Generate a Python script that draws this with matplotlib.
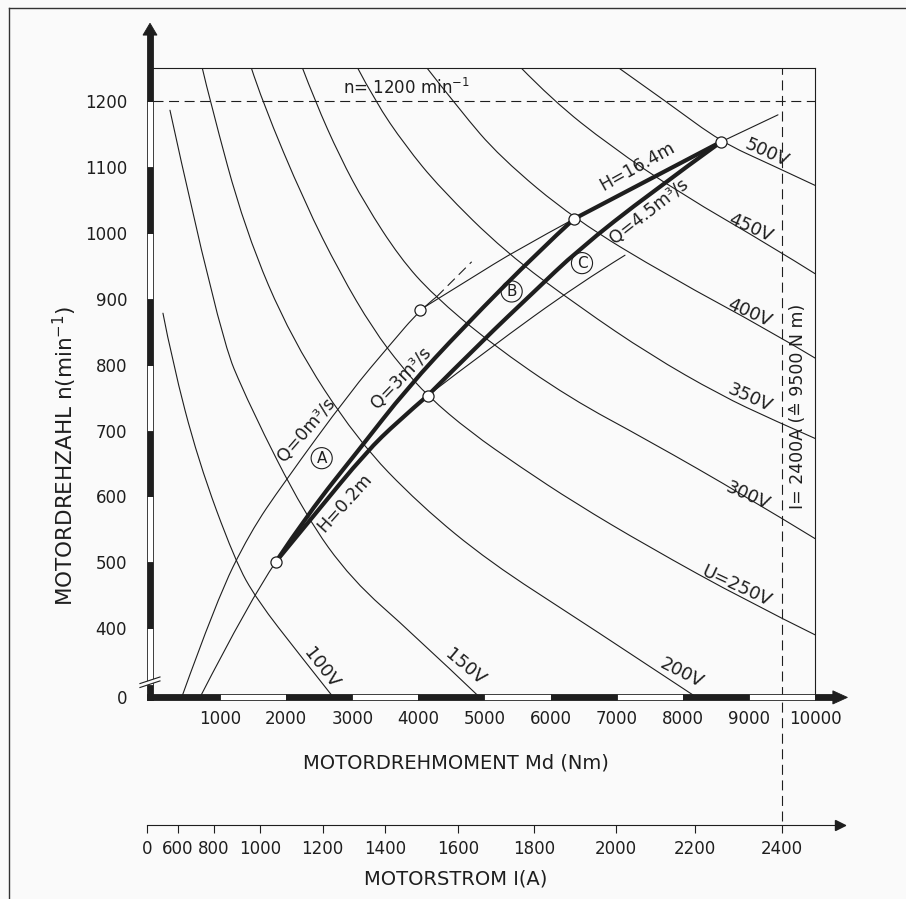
import matplotlib
matplotlib.use('Agg')
import matplotlib.pyplot as plt
from matplotlib.patches import Rectangle, Polygon, PathPatch
from matplotlib.path import Path
from matplotlib.lines import Line2D

plt.rcParams['font.family'] = ['DejaVu Sans']
plt.rcParams['mathtext.fontset'] = 'dejavusans'

INK = '#1e1e1e'
BG = '#fafafa'

# ---------------- data (Md in Nm, n in 1/min) ----------------
# voltage curves
u100_md = [136, 272, 666, 1225, 1558, 2209, 2730]
u100_n = [878, 807, 655, 503, 443, 359, 293]
u150_md = [242, 968, 1452, 2284, 2995, 3903, 4950]
u150_n = [1186, 852, 736, 572, 473, 393, 293]
u200_md = [726, 847, 1377, 2088, 3071, 4024, 5083, 6445, 8240]
u200_n = [1252, 1200, 1004, 837, 686, 587, 500, 412, 293]
u250_md = [1467, 1634, 2284, 2814, 3313, 3752, 4145, 4781, 5537, 6369, 7458, 8971, 10000]
u250_n = [1252, 1200, 1045, 939, 854, 796, 752, 698, 645, 590, 525, 441, 390]
u300_md = [2239, 2436, 2814, 3192, 3722, 4221, 5083, 6293, 7458, 8971, 10000]
u300_n = [1252, 1200, 1115, 1044, 962, 906, 833, 749, 686, 599, 536]
u350_md = [3071, 3343, 3797, 4327, 5310, 6445, 7504, 8563, 9365, 10000]
u350_n = [1252, 1200, 1133, 1068, 971, 887, 815, 754, 716, 688]
u400_md = [4115, 4629, 5234, 6354, 7806, 9319, 10000]
u400_n = [1252, 1186, 1115, 1021, 933, 851, 810]
u450_md = [5537, 6021, 6899, 7958, 9365, 10000]
u450_n = [1252, 1202, 1132, 1060, 978, 938]
u500_md = [7005, 7806, 8578, 9319, 10000]
u500_n = [1252, 1195, 1138, 1104, 1072]

volt_curves = [(u100_md, u100_n), (u150_md, u150_n), (u200_md, u200_n),
               (u250_md, u250_n), (u300_md, u300_n), (u350_md, u350_n),
               (u400_md, u400_n), (u450_md, u450_n), (u500_md, u500_n)]

volt_labels = ['100V', '150V', '200V', 'U=250V', '300V', '350V', '400V', '450V', '500V']
volt_label_md = [2537, 4705, 7983, 8815, 8986, 9017, 9002, 9017, 9269]
volt_label_n = [340, 341, 332, 463, 601, 749, 878, 1007, 1122]
volt_label_rot = [-52, -40, -27, -25, -24, -24, -24, -24, -24]

# operating points
pt_md = [1846, 4024, 4141, 6354, 8578]
pt_n = [501, 883, 753, 1021, 1138]

# thin lines
q0_md = [419, 949, 1452, 1952, 2965, 3570, 4024, 4277]
q0_n = [295, 443, 545, 619, 758, 830, 883, 903]
q0_dash_md = [4277, 4806]
q0_dash_n = [903, 956]
h02_thin_md = [696, 1452, 1846]
h02_thin_n = [295, 443, 501]
p2p4_md = [4024, 4781, 5487, 6354]
p2p4_n = [883, 930, 974, 1021]
p3ext_md = [4141, 5038, 6445, 7126]
p3ext_n = [753, 822, 924, 966]
p5ext_md = [8578, 9440]
p5ext_n = [1138, 1179]

# thick lines
b_md = [1846, 2340, 3094, 3828, 4675, 5840, 6354]
b_n = [501, 575, 670, 764, 856, 974, 1021]
a_md = [1846, 2451, 3207, 3691, 4141]
a_n = [501, 575, 667, 714, 753]
c_md = [4141, 4977, 5734, 6415, 7504, 8578]
c_n = [753, 837, 909, 974, 1060, 1138]
h164_md = [6354, 8578]
h164_n = [1021, 1138]

# axis ticks
x_ticks = [1000, 2000, 3000, 4000, 5000, 6000, 7000, 8000, 9000, 10000]
y_ticks = [295, 400, 500, 600, 700, 800, 900, 1000, 1100, 1200]
y_tick_labels = ['0', '400', '500', '600', '700', '800', '900', '1000', '1100', '1200']
cur_labels = ['0', '600', '800', '1000', '1200', '1400', '1600', '1800', '2000', '2200', '2400']
cur_md = [-100, 359, 908, 1608, 2552, 3499, 4595, 5753, 6994, 8185, 9505]

# ---------------- figure ----------------
W, H = 906, 899
fig = plt.figure(figsize=(W / 100, H / 100), dpi=100)
fig.patch.set_facecolor(BG)


def fx(px):
    return px / W


def fy(py):
    return 1 - py / H


def smooth_line(axis, xs, ys, lw, z=2):
    """Draw a drafting-style smooth curve through the read points (quadratic Bezier)."""
    if len(xs) < 3:
        axis.plot(xs, ys, color=INK, lw=lw, zorder=z, solid_capstyle='round')
        return
    verts = [(xs[0], ys[0])]
    codes = [Path.MOVETO]
    n = len(xs)
    for i in range(1, n - 1):
        if i < n - 2:
            end = ((xs[i] + xs[i + 1]) / 2.0, (ys[i] + ys[i + 1]) / 2.0)
        else:
            end = (xs[n - 1], ys[n - 1])
        verts += [(xs[i], ys[i]), end]
        codes += [Path.CURVE3, Path.CURVE3]
    axis.add_patch(PathPatch(Path(verts, codes), fill=False, ec=INK, lw=lw, zorder=z,
                             capstyle='round', joinstyle='round'))


MD_MIN, MD_MAX = -60, 10000
N_MIN, N_MAX = 295, 1250

ax = fig.add_axes([fx(150), fy(697.4), fx(815) - fx(150), fy(68.05) - fy(697.4)])
ax.set_xlim(MD_MIN, MD_MAX)
ax.set_ylim(N_MIN, N_MAX)
ax.set_facecolor('none')
for s in ax.spines.values():
    s.set_visible(False)

# frame and reference lines
ax.plot([-10, 10000], [1250, 1250], color=INK, lw=0.8, clip_on=False)
ax.plot([10000, 10000], [N_MIN, 1250], color=INK, lw=0.8, clip_on=False)
ax.plot([-10, 10000], [1200, 1200], color=INK, lw=0.8, dashes=(9, 5))
ax.plot([9500, 9500], [108, 1250], color=INK, lw=0.8, dashes=(9, 5), clip_on=False)

# voltage curves
for md, n in volt_curves:
    smooth_line(ax, md, n, 0.8)
for lab, lx, ly, rot in zip(volt_labels, volt_label_md, volt_label_n, volt_label_rot):
    ax.text(lx, ly, lab, rotation=rot, rotation_mode='anchor', ha='center', va='center',
            fontsize=13, color=INK, clip_on=False)

# thin auxiliary lines
for md, n in [(q0_md, q0_n), (h02_thin_md, h02_thin_n), (p2p4_md, p2p4_n),
              (p3ext_md, p3ext_n), (p5ext_md, p5ext_n)]:
    smooth_line(ax, md, n, 0.8)
ax.plot(q0_dash_md, q0_dash_n, color=INK, lw=0.8, dashes=(9, 5), zorder=2)

# thick operating lines
for md, n in [(b_md, b_n), (a_md, a_n), (c_md, c_n), (h164_md, h164_n)]:
    smooth_line(ax, md, n, 3.0, z=3)

ax.plot(pt_md, pt_n, 'o', ms=8, mfc='white', mec=INK, mew=0.9, zorder=4)

# line annotations
ax.text(2300, 701, 'Q=0m³/s', rotation=49, rotation_mode='anchor', ha='center', va='center', fontsize=12.5, color=INK)
ax.text(3737, 780, 'Q=3m³/s', rotation=46, rotation_mode='anchor', ha='center', va='center', fontsize=12.5, color=INK)
ax.text(2890, 591, 'H=0.2m', rotation=48, rotation_mode='anchor', ha='center', va='center', fontsize=12.5, color=INK)
ax.text(7307, 1100, 'H=16.4m', rotation=29, rotation_mode='anchor', ha='center', va='center', fontsize=12.5, color=INK)
ax.text(7489, 1032, 'Q=4.5m³/s', rotation=38, rotation_mode='anchor', ha='center', va='center', fontsize=12.5, color=INK)
for lab, lx, ly in [('A', 2537, 658), ('B', 5411, 911), ('C', 6475, 954)]:
    ax.text(lx, ly, lab, ha='center', va='center', fontsize=11, color=INK,
            bbox=dict(boxstyle='circle,pad=0.2', fc='none', ec=INK, lw=0.8))
ax.text(2859, 1204, 'n= 1200 min$^{-1}$', ha='left', va='bottom', fontsize=12, color=INK)
ax.text(9743, 736, 'I= 2400A (≙ 9500 N m)', rotation=90, ha='center', va='center', fontsize=12.5, color=INK)

# ---- axis bars (black / white segments) ----
bh = 4.6
x_edges = [-110] + x_ticks
for i in range(len(x_edges) - 1):
    fc = INK if i % 2 == 0 else 'white'
    ax.add_patch(Rectangle((x_edges[i], N_MIN - bh), x_edges[i + 1] - x_edges[i], 2 * bh,
                           fc=fc, ec=INK, lw=0.6, clip_on=False, zorder=6))
ax.add_patch(Rectangle((10000, N_MIN - bh), 290, 2 * bh, fc=INK, ec=INK, lw=0.6, clip_on=False, zorder=6))
ax.add_patch(Polygon([(10270, N_MIN - 10), (10270, N_MIN + 10), (10490, N_MIN)], closed=True,
                     fc=INK, ec=INK, lw=0.6, clip_on=False, zorder=6))

bw0, bw1 = -110, -10
y_segments = [(N_MIN - bh, 314, INK), (314, 400, 'white'), (400, 500, INK), (500, 600, 'white'),
              (600, 700, INK), (700, 800, 'white'), (800, 900, INK), (900, 1000, 'white'),
              (1000, 1100, INK), (1100, 1200, 'white'), (1200, 1302, INK)]
for lo, hi, fc in y_segments:
    ax.add_patch(Rectangle((bw0, lo), bw1 - bw0, hi - lo, fc=fc, ec=INK, lw=0.6, clip_on=False, zorder=6))
ax.add_patch(Polygon([(-166, 1300), (46, 1300), (-60, 1318)], closed=True, fc=INK, ec=INK,
                     lw=0.6, clip_on=False, zorder=6))
# axis break
ax.add_patch(Polygon([(-212, 310), (91, 320), (91, 326), (-212, 316)], closed=True, fc=BG, ec='none',
                     clip_on=False, zorder=7))
ax.plot([-212, 91], [310, 320], color=INK, lw=0.8, clip_on=False, zorder=8)
ax.plot([-212, 91], [316, 326], color=INK, lw=0.8, clip_on=False, zorder=8)

# ticks
ax.set_xticks(x_ticks)
ax.set_xticklabels([str(v) for v in x_ticks])
ax.set_yticks(y_ticks)
ax.set_yticklabels(y_tick_labels)
ax.tick_params(axis='x', length=0, pad=9, labelsize=12, labelcolor=INK)
ax.tick_params(axis='y', length=0, pad=16.5, labelsize=12, labelcolor=INK)

# ---- secondary (current) axis ----
ax2 = fig.add_axes([fx(147.4), fy(825), fx(844.7) - fx(147.4), 0.0001])
ax2.set_xlim(-100, 10450)
ax2.set_ylim(0, 1)
ax2.set_facecolor('none')
for k in ['left', 'right', 'top']:
    ax2.spines[k].set_visible(False)
ax2.spines['bottom'].set_linewidth(0.8)
ax2.spines['bottom'].set_color(INK)
ax2.set_yticks([])
ax2.set_xticks(cur_md)
ax2.set_xticklabels(cur_labels)
ax2.tick_params(axis='x', direction='out', length=5.8, width=0.8, color=INK, pad=5, labelsize=12, labelcolor=INK)
ax2.plot([10380], [0], marker='>', ms=7, color=INK, clip_on=False)

# titles
fig.text(fx(456), fy(763), 'MOTORDREHMOMENT Md (Nm)', ha='center', va='center', fontsize=14, color=INK)
fig.text(fx(455.5), fy(879), 'MOTORSTROM I(A)', ha='center', va='center', fontsize=14, color=INK)
fig.text(fx(65), fy(456), 'MOTORDREHZAHL n(min$^{-1}$)', rotation=90, ha='center', va='center',
         fontsize=15.5, color=INK)

# page border
fig.add_artist(Line2D([fx(9.3), 1], [fy(8.3), fy(8.3)], transform=fig.transFigure, color='#333333', lw=1.0))
fig.add_artist(Line2D([fx(9.3), fx(9.3)], [0, fy(8.3)], transform=fig.transFigure, color='#333333', lw=1.0))

fig.savefig('out.png', dpi=100, facecolor=fig.get_facecolor())
